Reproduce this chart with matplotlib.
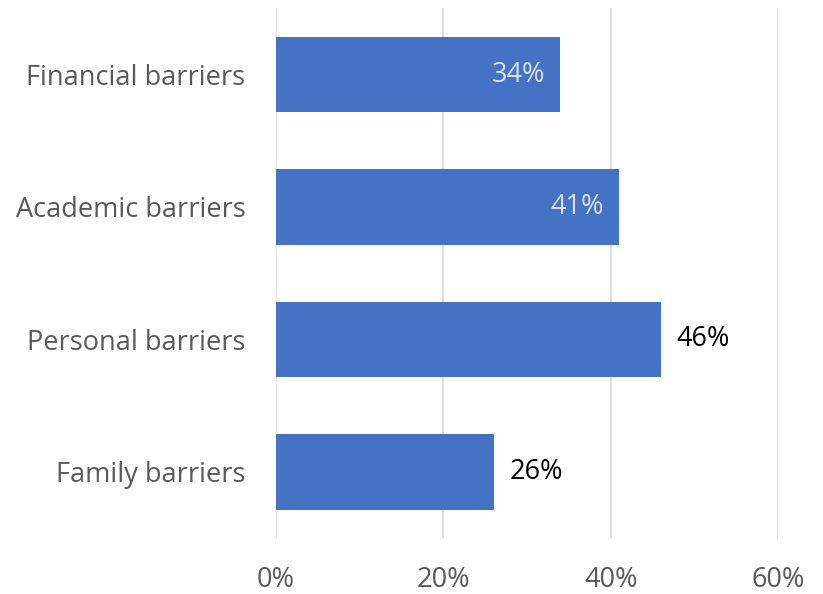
import matplotlib
matplotlib.use('Agg')
import matplotlib.pyplot as plt
from matplotlib.ticker import FuncFormatter

# Share of respondents citing each barrier
categories = ["Financial barriers", "Academic barriers", "Personal barriers", "Family barriers"]
values = [0.34, 0.41, 0.46, 0.26]
label_inside = [True, True, False, False]
x_ticks = [0.0, 0.2, 0.4, 0.6]

plt.rcParams['font.family'] = ['Open Sans', 'DejaVu Sans']

fig = plt.figure(figsize=(8.23, 5.94), dpi=100)
ax = fig.add_axes([0.3354, 0.0943, 0.6099, 0.8917])

y_pos = list(range(len(categories)))
ax.barh(y_pos, values, height=0.57, color='#4472C4', zorder=3)
ax.set_ylim(len(categories) - 0.5, -0.5)
ax.set_xlim(0, 0.6)

ax.set_yticks(y_pos)
ax.set_yticklabels(categories, fontsize=19.5, color='#595959')
ax.set_xticks(x_ticks)
ax.xaxis.set_major_formatter(FuncFormatter(lambda v, _: f"{v * 100:.0f}%"))
ax.tick_params(axis='x', labelsize=19.5, labelcolor='#595959', length=0, pad=20)
ax.tick_params(axis='y', length=0, pad=22)

ax.grid(axis='x', color='#D9D9D9', linewidth=1.2, zorder=0)
for s in ax.spines.values():
    s.set_visible(False)

# Value labels: inside the bar end for some, just past it for others
for y, v, inside in zip(y_pos, values, label_inside):
    text = f"{v * 100:.0f}%"
    if inside:
        ax.text(v - 0.018, y, text, ha='right', va='center', fontsize=19.5,
                color='#D9E1F2', zorder=4)
    else:
        ax.text(v + 0.019, y, text, ha='left', va='center', fontsize=19.5,
                color='black', zorder=4)

fig.savefig('out.png', dpi=100)
